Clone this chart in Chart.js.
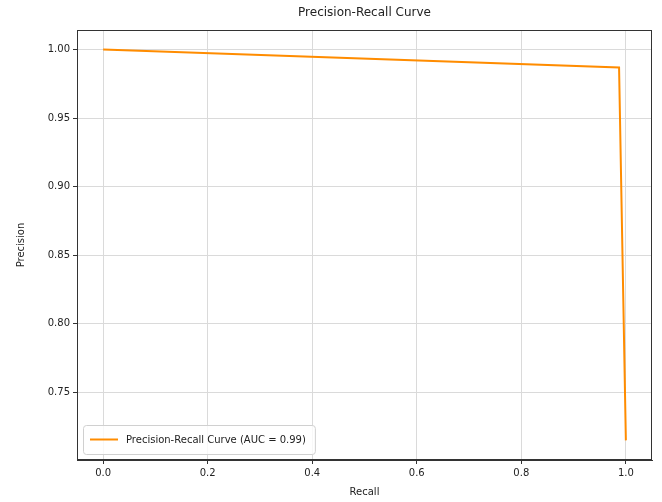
<!DOCTYPE html>
<html>
<head>
<meta charset="utf-8">
<script src="https://cdn.jsdelivr.net/npm/chart.js@4/dist/chart.umd.min.js"></script>
<style>
  html, body { margin: 0; padding: 0; background: #fff; }
  #wrap { width: 662px; height: 502px; }
</style>
</head>
<body>
<div id="wrap"><canvas id="pr"></canvas></div>
<script>
// data
const recall    = [0.0, 0.987, 1.0];
const precision = [1.0, 0.987, 0.715];
const xTicks = [0.0, 0.2, 0.4, 0.6, 0.8, 1.0];
const yTicks = [0.75, 0.80, 0.85, 0.90, 0.95, 1.00];
const seriesLabel = 'Precision-Recall Curve (AUC = 0.99)';
const chartTitle = 'Precision-Recall Curve';

const FONT = '"DejaVu Sans", sans-serif';
const LINE = '#ff8c00';

// title over the plot area, full axes frame, legend box inside bottom-left (matplotlib style)
const decor = {
  id: 'decor',
  afterDraw(chart) {
    const { ctx, chartArea: a } = chart;
    ctx.save();
    ctx.strokeStyle = '#333';
    ctx.lineWidth = 1;
    ctx.strokeRect(Math.round(a.left) + 0.5, Math.round(a.top) + 0.5,
                   Math.round(a.right - a.left) - 1, Math.round(a.bottom - a.top) - 1);

    ctx.fillStyle = '#222';
    ctx.font = '12px ' + FONT;
    ctx.textAlign = 'center';
    ctx.textBaseline = 'middle';
    ctx.fillText(chartTitle, (a.left + a.right) / 2, 13);

    ctx.font = '10px ' + FONT;
    const tw = ctx.measureText(seriesLabel).width;
    const x0 = a.left + 6, y0 = a.bottom - 35, h = 29, w = tw + 52;
    ctx.fillStyle = 'rgba(255,255,255,0.8)';
    ctx.strokeStyle = '#d0d0d0';
    ctx.lineWidth = 1;
    ctx.beginPath();
    ctx.roundRect(x0 + 0.5, y0 + 0.5, w, h, 3);
    ctx.fill(); ctx.stroke();
    ctx.strokeStyle = LINE;
    ctx.lineWidth = 2;
    ctx.beginPath();
    ctx.moveTo(x0 + 7, y0 + h / 2);
    ctx.lineTo(x0 + 35, y0 + h / 2);
    ctx.stroke();
    ctx.fillStyle = '#222';
    ctx.textAlign = 'left';
    ctx.fillText(seriesLabel, x0 + 43, y0 + h / 2 + 1);
    ctx.restore();
  }
};

new Chart(document.getElementById('pr'), {
  type: 'scatter',
  data: {
    datasets: [{
      label: seriesLabel,
      data: recall.map((r, i) => ({ x: r, y: precision[i] })),
      showLine: true,
      borderColor: LINE,
      backgroundColor: LINE,
      borderWidth: 2,
      pointRadius: 0,
      tension: 0
    }]
  },
  options: {
    responsive: true,
    maintainAspectRatio: false,
    animation: false,
    layout: { padding: { top: 30, right: 10, left: 0, bottom: 0 } },
    plugins: { legend: { display: false }, title: { display: false }, tooltip: { enabled: false } },
    scales: {
      x: {
        type: 'linear',
        min: -0.05, max: 1.05,
        afterBuildTicks: s => { s.ticks = xTicks.map(v => ({ value: v })); },
        afterFit: s => { s.height = 42; },
        ticks: { color: '#222', font: { family: FONT, size: 10 }, padding: 3, maxRotation: 0,
                 callback: v => v.toFixed(1) },
        grid: { color: '#dadada', tickColor: '#333', tickLength: 4, drawTicks: true },
        border: { color: '#333', width: 1 },
        title: { display: true, text: 'Recall', color: '#222', font: { family: FONT, size: 10 }, padding: { top: 4 } }
      },
      y: {
        type: 'linear',
        min: 0.7007, max: 1.0143,
        afterBuildTicks: s => { s.ticks = yTicks.map(v => ({ value: v })); },
        afterFit: s => { s.width = 77; },
        ticks: { color: '#222', font: { family: FONT, size: 10 }, padding: 3,
                 callback: v => v.toFixed(2) },
        grid: { color: '#dadada', tickColor: '#333', tickLength: 4, drawTicks: true },
        border: { color: '#333', width: 1 },
        title: { display: true, text: 'Precision', color: '#222', font: { family: FONT, size: 10 },
                 padding: { top: 15, bottom: 0 } }
      }
    }
  },
  plugins: [decor]
});
</script>
</body>
</html>
